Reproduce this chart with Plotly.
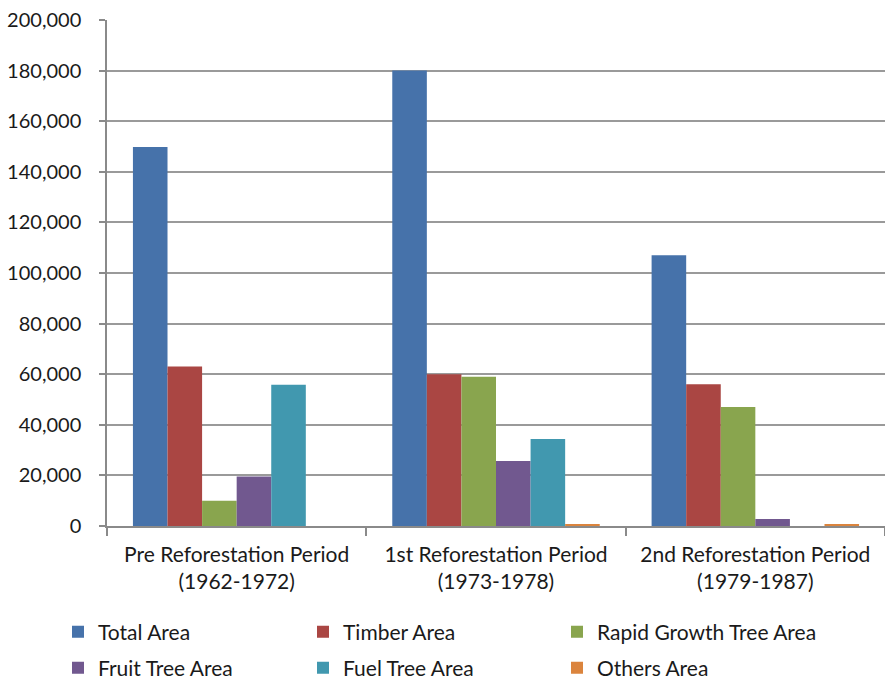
import plotly.graph_objects as go

categories = ["Pre Reforestation Period<br>(1962-1972)",
              "1st Reforestation Period<br>(1973-1978)",
              "2nd Reforestation Period<br>(1979-1987)"]
series_names = ["Total Area", "Timber Area", "Rapid Growth Tree Area",
                "Fruit Tree Area", "Fuel Tree Area", "Others Area"]
total_area = [149800, 180000, 107000]
timber_area = [63000, 60000, 56000]
rapid_growth_area = [10000, 59000, 47000]
fruit_tree_area = [19600, 25700, 2800]
fuel_tree_area = [55800, 34400, 0]
others_area = [0, 600, 700]
series_values = [total_area, timber_area, rapid_growth_area,
                 fruit_tree_area, fuel_tree_area, others_area]
colors = ["#4672AA", "#AA4643", "#89A54E", "#71588F", "#4198AF", "#DB843D"]
y_ticks = list(range(0, 200001, 20000))

font = "Lato, 'Open Sans', sans-serif"
txt = "#1a1a1a"

# legend slot layout (text start x, row centre y) in pixels
legend_text_x = [98, 343, 597]
legend_row_y = [632, 668]

fig = go.Figure()
legend_layouts = {}
for i, (name, vals, col) in enumerate(zip(series_names, series_values, colors)):
    key = "legend" if i == 0 else f"legend{i + 1}"
    fig.add_trace(go.Bar(x=categories, y=vals, name=name, legend=key,
                         marker=dict(color=col, line=dict(width=0))))
    col_i, row_i = i % 3, i // 3
    legend_layouts[key] = dict(
        orientation="h", xref="container", yref="container",
        xanchor="left", yanchor="middle",
        x=(legend_text_x[col_i] - 40) / 885, y=1 - legend_row_y[row_i] / 684,
        font=dict(family=font, size=21, color=txt),
        itemwidth=30, bgcolor="rgba(0,0,0,0)")

fig.update_layout(
    width=885, height=684,
    margin=dict(l=107, r=0, t=20, b=158),
    paper_bgcolor="white", plot_bgcolor="white",
    barmode="group", bargap=0.2, bargroupgap=0,
    font=dict(family=font, size=21, color=txt),
    showlegend=True,
    xaxis=dict(type="category", tickson="boundaries", ticks="outside",
               ticklen=8, tickcolor="#8a8a8a", tickwidth=1.5,
               showline=True, linecolor="#8a8a8a", linewidth=1.5,
               ticklabelstandoff=9,
               tickfont=dict(family=font, size=21, color=txt),
               showgrid=False),
    yaxis=dict(range=[0, 200000], tickvals=y_ticks, tickformat=",",
               ticks="outside", ticklen=6, tickcolor="#8a8a8a", tickwidth=1.5,
               showline=True, linecolor="#8a8a8a", linewidth=1.5,
               ticklabelstandoff=14,
               showgrid=True, gridcolor="#9a9a9a", gridwidth=1.5,
               zeroline=False,
               tickfont=dict(family=font, size=20, color=txt)),
    **legend_layouts,
)
fig.write_html("out.html")
